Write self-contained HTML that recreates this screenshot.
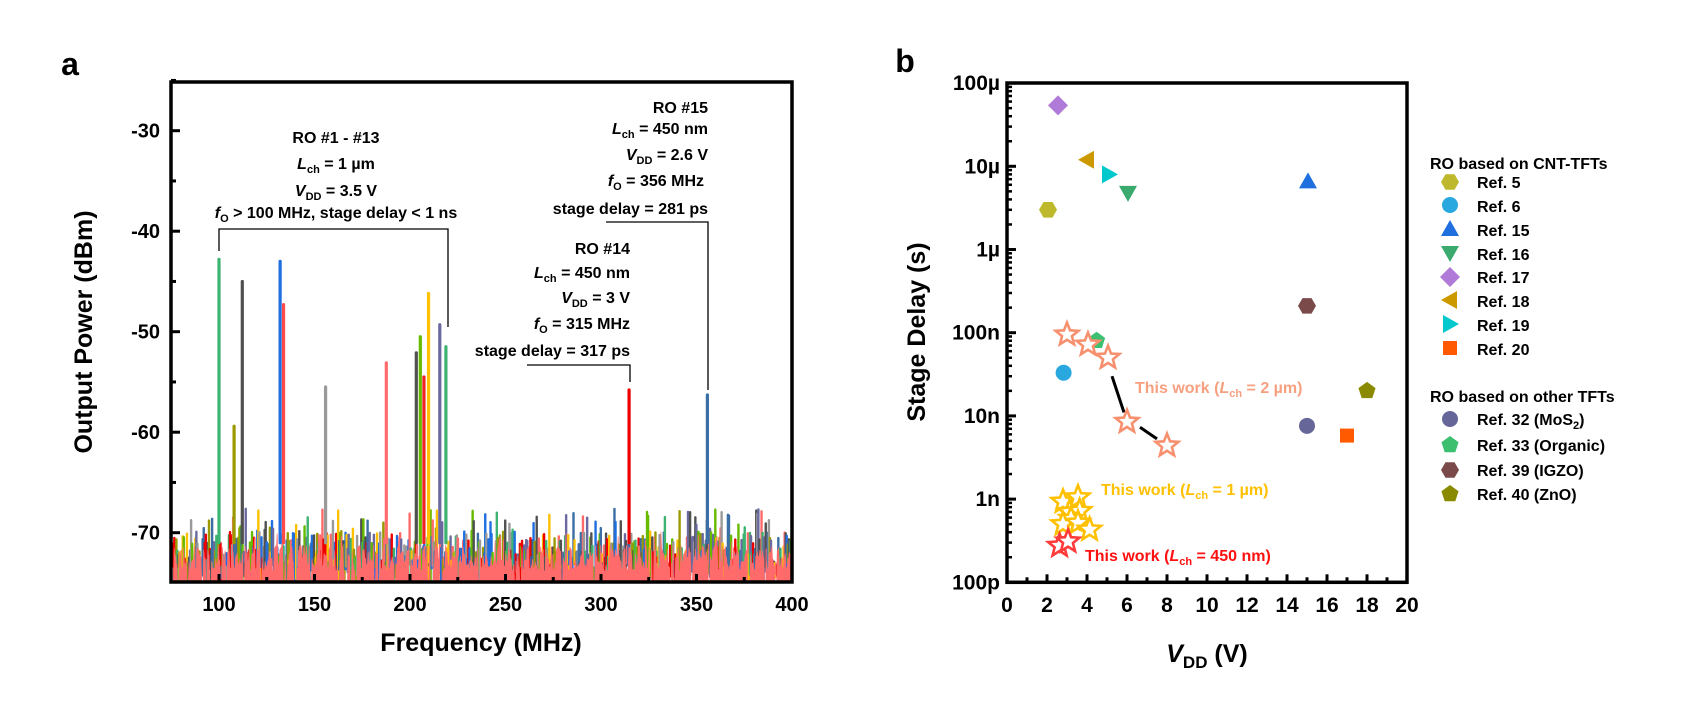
<!DOCTYPE html>
<html><head><meta charset="utf-8"><style>
html,body{margin:0;padding:0;background:#fff;}
svg{display:block;font-family:"Liberation Sans",Arial,sans-serif;font-weight:bold;}
</style></head><body>
<svg id="s" width="1689" height="714" viewBox="0 0 1689 714" xmlns="http://www.w3.org/2000/svg">
<g id="noise"></g>
<g id="peaks"></g>
<g id="axes"></g>
<text x="70" y="75" font-size="32" text-anchor="middle">a</text>
<text x="905" y="72" font-size="32" text-anchor="middle">b</text>
<text transform="translate(92,332) rotate(-90)" font-size="25" text-anchor="middle">Output Power (dBm)</text>
<text x="481" y="651" font-size="25" text-anchor="middle">Frequency (MHz)</text>
<g font-size="16" text-anchor="middle">
<text x="336" y="143">RO #1 - #13</text>
<text x="336" y="169"><tspan font-style="italic">L</tspan><tspan font-size="11" dy="4">ch</tspan><tspan dy="-4"> = 1 µm</tspan></text>
<text x="336" y="196"><tspan font-style="italic">V</tspan><tspan font-size="11" dy="4">DD</tspan><tspan dy="-4"> = 3.5 V</tspan></text>
<text x="336" y="218"><tspan font-style="italic">f</tspan><tspan font-size="11" dy="4">O</tspan><tspan dy="-4"> &gt; 100 MHz, stage delay &lt; 1 ns</tspan></text>
</g>
<g font-size="16" text-anchor="end">
<text x="708" y="113">RO #15</text>
<text x="708" y="134"><tspan font-style="italic">L</tspan><tspan font-size="11" dy="4">ch</tspan><tspan dy="-4"> = 450 nm</tspan></text>
<text x="708" y="160"><tspan font-style="italic">V</tspan><tspan font-size="11" dy="4">DD</tspan><tspan dy="-4"> = 2.6 V</tspan></text>
<text x="704" y="186"><tspan font-style="italic">f</tspan><tspan font-size="11" dy="4">O</tspan><tspan dy="-4"> = 356 MHz</tspan></text>
<text x="708" y="214">stage delay = 281 ps</text>
<text x="630" y="254">RO #14</text>
<text x="630" y="278"><tspan font-style="italic">L</tspan><tspan font-size="11" dy="4">ch</tspan><tspan dy="-4"> = 450 nm</tspan></text>
<text x="630" y="303"><tspan font-style="italic">V</tspan><tspan font-size="11" dy="4">DD</tspan><tspan dy="-4"> = 3 V</tspan></text>
<text x="630" y="329"><tspan font-style="italic">f</tspan><tspan font-size="11" dy="4">O</tspan><tspan dy="-4"> = 315 MHz</tspan></text>
<text x="630" y="356">stage delay = 317 ps</text>
</g>
<g stroke="#000" stroke-width="1.3" fill="none">
<polyline points="219,251 219,229 448,229 448,327"/>
<polyline points="606,222 708,222 708,390"/>
<polyline points="527,365 630,365 630,382"/>
</g>
<text transform="translate(925,332) rotate(-90)" font-size="25" text-anchor="middle">Stage Delay (s)</text>
<text x="1207" y="662" font-size="25" text-anchor="middle"><tspan font-style="italic">V</tspan><tspan font-size="17" dy="6">DD</tspan><tspan dy="-6"> (V)</tspan></text>
<g font-size="16">
<text x="1135" y="393" fill="#f7a080">This work (<tspan font-style="italic">L</tspan><tspan font-size="11" dy="4">ch</tspan><tspan dy="-4"> = 2 µm)</tspan></text>
<text x="1101" y="495" fill="#ffc000">This work (<tspan font-style="italic">L</tspan><tspan font-size="11" dy="4">ch</tspan><tspan dy="-4"> = 1 µm)</tspan></text>
<text x="1085" y="561" fill="#ff1010">This work (<tspan font-style="italic">L</tspan><tspan font-size="11" dy="4">ch</tspan><tspan dy="-4"> = 450 nm)</tspan></text>
</g>
<g font-size="16">
<text x="1430" y="169">RO based on CNT-TFTs</text>
<text x="1477" y="188">Ref. 5</text>
<text x="1477" y="212">Ref. 6</text>
<text x="1477" y="236">Ref. 15</text>
<text x="1477" y="260">Ref. 16</text>
<text x="1477" y="283">Ref. 17</text>
<text x="1477" y="307">Ref. 18</text>
<text x="1477" y="331">Ref. 19</text>
<text x="1477" y="355">Ref. 20</text>
<text x="1430" y="402">RO based on other TFTs</text>
<text x="1477" y="425">Ref. 32 (MoS<tspan font-size="11" dy="4">2</tspan><tspan dy="-4">)</tspan></text>
<text x="1477" y="451">Ref. 33 (Organic)</text>
<text x="1477" y="476">Ref. 39 (IGZO)</text>
<text x="1477" y="500">Ref. 40 (ZnO)</text>
</g>
<g id="markers"></g>
</svg>
<script>
(function(){
var NS="http://www.w3.org/2000/svg";
function el(p,t,a){var e=document.createElementNS(NS,t);for(var k in a)e.setAttribute(k,a[k]);p.appendChild(e);return e;}
function txt(p,x,y,s,anch,fs){var e=el(p,"text",{x:x,y:y,"text-anchor":anch||"middle","font-size":fs||20});e.textContent=s;return e;}
var seed=12345;function rnd(){seed=(seed*1103515245+12345)%2147483648;return seed/2147483648;}
var AL=171,AR=792,AT=82,AB=582;
function fx(f){return 219+(f-100)*1.91;}
function dy(d){return 532.7-(d+70)*10.05;}
var noise=document.getElementById("noise");
var cp=el(noise,"clipPath",{id:"ca"});el(cp,"rect",{x:AL,y:AT,width:AR-AL,height:AB-AT});
var ng=el(noise,"g",{"clip-path":"url(#ca)"});
var cols=["#1f6fe0","#3cb371","#9a9a00","#505050","#ffc000","#66bb00","#999999","#ee0000","#6a6aa0","#3a6ea5","#ff6b6b"];
for(var f=75.5;f<=400;f+=0.55){
  var c=cols[Math.floor(rnd()*cols.length)];
  var v=-73.5+rnd()*3.6; if(rnd()<0.12)v=-70.2+rnd()*2.6;
  var lo=-76+rnd()*3;
  el(ng,"line",{x1:fx(f),x2:fx(f),y1:dy(lo),y2:dy(v),stroke:c,"stroke-width":2.4,"stroke-linecap":"round"});
}
var pp=[fx(75)+","+AB];
for(var f=75;f<=400.5;f+=0.7){var v=-73.8+rnd()*2.6; if(rnd()<0.05)v=-71+rnd()*1.2; if(rnd()<0.1)v=-75;pp.push(fx(f)+","+dy(v));pp.push(fx(f+0.35)+","+dy(v));}
pp.push(fx(400.5)+","+AB);
el(ng,"polygon",{points:pp.join(" "),fill:"#ff6b6b"});
var peaks=[[100,-42.8,"#3cb371"],[107.9,-59.4,"#9a9a00"],[112.2,-45,"#505050"],[132,-43,"#1f6fe0"],[133.8,-47.3,"#ff4a4a"],[155.8,-55.5,"#999999"],[187.6,-53.1,"#ff6b6b"],[203.3,-52.1,"#505050"],[205.4,-50.5,"#66bb00"],[207.3,-54.5,"#ee2222"],[209.7,-46.2,"#ffc000"],[215.6,-49.3,"#6a6aa0"],[218.8,-51.5,"#3cb371"],[314.7,-55.8,"#ee0000"],[355.7,-56.3,"#3a6ea5"]];
var pg=document.getElementById("peaks");
peaks.forEach(function(p){el(pg,"line",{x1:fx(p[0]),x2:fx(p[0]),y1:dy(-71),y2:dy(p[1]),stroke:p[2],"stroke-width":3.2,"stroke-linecap":"round"});});
var ax=document.getElementById("axes");
el(ax,"rect",{x:AL,y:AT,width:AR-AL,height:AB-AT,fill:"none",stroke:"#000","stroke-width":3.5});
for(var d=-70;d<=-30;d+=10){el(ax,"line",{x1:AL,x2:AL+9,y1:dy(d),y2:dy(d),stroke:"#000","stroke-width":3});txt(ax,160,dy(d)+7,String(d),"end",20);}
for(var d=-65;d<=-25;d+=10){el(ax,"line",{x1:AL,x2:AL+5,y1:dy(d),y2:dy(d),stroke:"#000","stroke-width":3});}
for(var f=100;f<=400;f+=50){el(ax,"line",{x1:fx(f),x2:fx(f),y1:AB,y2:AB-8,stroke:"#000","stroke-width":3});txt(ax,fx(f),611,String(f),"middle",20);}
for(var f=125;f<400;f+=50){el(ax,"line",{x1:fx(f),x2:fx(f),y1:AB,y2:AB-5,stroke:"#000","stroke-width":3});}
var BL=1007,BR=1407,BT=83,BB=582.3,DEC=83.2;
function vx(v){return BL+20*v;}
function sy(s){return BB-(Math.log10(s)+10)*DEC;}
el(ax,"rect",{x:BL,y:BT,width:BR-BL,height:BB-BT,fill:"none",stroke:"#000","stroke-width":3.5});
var yl=["100p","1n","10n","100n","1µ","10µ","100µ"];
for(var i=0;i<=6;i++){var y=BB-i*DEC;el(ax,"line",{x1:BL,x2:BL+9,y1:y,y2:y,stroke:"#000","stroke-width":3});txt(ax,1000,y+7,yl[i],"end",21);
 if(i<6)for(var k=2;k<=9;k++){var yy=y-Math.log10(k)*DEC;el(ax,"line",{x1:BL,x2:BL+5,y1:yy,y2:yy,stroke:"#000","stroke-width":2.5});}}
for(var v=0;v<=20;v++){var x=vx(v);el(ax,"line",{x1:x,x2:x,y1:BB,y2:BB-(v%2?5:8),stroke:"#000","stroke-width":3});if(v%2==0)txt(ax,x,612,String(v),"middle",21);}
var mk=document.getElementById("markers");
function poly(n,r,rot){var a=[];for(var i=0;i<n;i++){var t=rot+i*2*Math.PI/n;a.push([r*Math.cos(t),r*Math.sin(t)]);}return a;}
function shape(type,x,y,c){
  var pts;
  if(type=="circle"){el(mk,"circle",{cx:x,cy:y,r:8,fill:c});return;}
  if(type=="square"){el(mk,"rect",{x:x-7,y:y-7,width:14,height:14,fill:c});return;}
  if(type=="hex")pts=poly(6,9,0);
  if(type=="pent")pts=poly(5,9,-Math.PI/2);
  if(type=="dia")pts=[[0,-10],[10,0],[0,10],[-10,0]];
  if(type=="up")pts=[[0,-9],[9,7],[-9,7]];
  if(type=="down")pts=[[0,9],[9,-7],[-9,-7]];
  if(type=="left")pts=[[-9,0],[7,-9],[7,9]];
  if(type=="right")pts=[[9,0],[-7,-9],[-7,9]];
  el(mk,"polygon",{points:pts.map(function(p){return (x+p[0])+","+(y+p[1]);}).join(" "),fill:c});
}
function star(x,y,c){var a=[];for(var i=0;i<10;i++){var r=i%2?5.2:12,t=-Math.PI/2+i*Math.PI/5;a.push((x+r*Math.cos(t))+","+(y+r*Math.sin(t)));}
 el(mk,"polygon",{points:a.join(" "),fill:"#fff",stroke:c,"stroke-width":2.6,"stroke-linejoin":"miter"});}
var data=[["dia",2.55,54e-6,"#b07ad8"],["left",4,12e-6,"#cc9900"],["right",5.1,8e-6,"#00c8cc"],["down",6.05,4.8e-6,"#3aaa6e"],["hex",2.05,3e-6,"#bdb82c"],["up",15.05,6.6e-6,"#1f6fdf"],["hex",15,210e-9,"#7a4a4a"],["pent",4.48,80e-9,"#3cc070"],["circle",2.83,33e-9,"#29a8e0"],["circle",15,7.6e-9,"#666699"],["square",17,5.8e-9,"#ff5a00"],["pent",18,20e-9,"#8a8a00"]];
data.forEach(function(d){shape(d[0],vx(d[1]),sy(d[2]),d[3]);});
var lg=[["hex",182,"#bdb82c"],["circle",205,"#29a8e0"],["up",229,"#1f6fdf"],["down",253,"#3aaa6e"],["dia",277,"#b07ad8"],["left",300,"#cc9900"],["right",324,"#00c8cc"],["square",348,"#ff5a00"],["circle",419,"#666699"],["pent",445,"#3cc070"],["hex",470,"#7a4a4a"],["pent",494,"#8a8a00"]];
lg.forEach(function(d){shape(d[0],1450,d[1],d[2]);});
var s2=[[3,95e-9],[4.05,72e-9],[5.05,50e-9],[6,8.5e-9],[8,4.4e-9]];
el(mk,"line",{x1:vx(5.25),y1:sy(30e-9),x2:vx(5.85),y2:sy(11e-9),stroke:"#000","stroke-width":3});
el(mk,"line",{x1:vx(6.65),y1:sy(7.3e-9),x2:vx(7.5),y2:sy(5.3e-9),stroke:"#000","stroke-width":3});
s2.forEach(function(p){star(vx(p[0]),sy(p[1]),"#f7906e");});
var s1=[[2.8,0.93e-9],[3.55,1.05e-9],[3.13,0.7e-9],[3.63,0.72e-9],[3.2,0.58e-9],[2.8,0.5e-9],[3.55,0.52e-9],[4.13,0.43e-9]];
s1.forEach(function(p){star(vx(p[0]),sy(p[1]),"#ffc000");});
[[2.63,0.275e-9],[3.05,0.31e-9]].forEach(function(p){star(vx(p[0]),sy(p[1]),"#ff3a3a");});
})();
</script>
</body></html>
